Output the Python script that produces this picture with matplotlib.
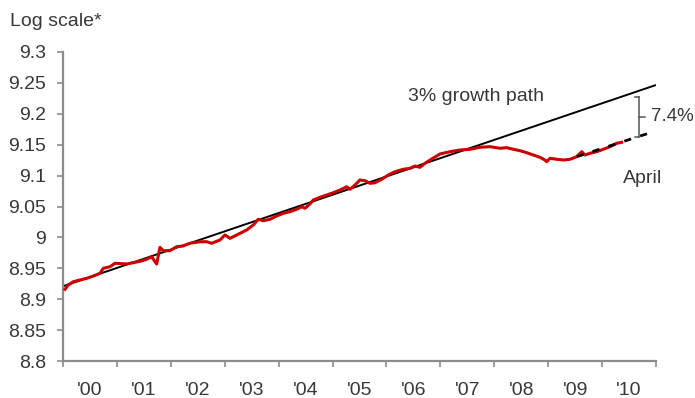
import matplotlib
matplotlib.use("Agg")
import matplotlib.pyplot as plt

# ---- data ----
red_years = [2000.037, 2000.098, 2000.191, 2000.315, 2000.440, 2000.562, 2000.686, 2000.748,
             2000.872, 2000.965, 2001.182, 2001.428, 2001.553, 2001.645, 2001.707, 2001.738,
             2001.799, 2001.860, 2001.985, 2002.109, 2002.231, 2002.356, 2002.541, 2002.666,
             2002.758, 2002.912, 2003.005, 2003.098, 2003.222, 2003.407, 2003.530, 2003.623,
             2003.715, 2003.840, 2003.964, 2004.086, 2004.211, 2004.335, 2004.428, 2004.489,
             2004.582, 2004.643, 2004.767, 2004.892, 2005.014, 2005.139, 2005.263, 2005.324,
             2005.416, 2005.509, 2005.602, 2005.695, 2005.787, 2005.912, 2006.034, 2006.158,
             2006.312, 2006.437, 2006.529, 2006.622, 2006.715, 2006.808, 2006.993, 2007.179,
             2007.364, 2007.550, 2007.735, 2007.921, 2008.106, 2008.230, 2008.353, 2008.477,
             2008.601, 2008.724, 2008.848, 2008.941, 2008.972, 2009.034, 2009.158, 2009.280,
             2009.405, 2009.529, 2009.622, 2009.683, 2009.776, 2009.900, 2010.023, 2010.147,
             2010.271, 2010.364]
red_values = [8.9160, 8.9230, 8.9283, 8.9311, 8.9338, 8.9375, 8.9419, 8.9500,
              8.9526, 8.9581, 8.9570, 8.9613, 8.9646, 8.9688, 8.9607, 8.9570,
              8.9840, 8.9785, 8.9785, 8.9850, 8.9861, 8.9905, 8.9930, 8.9930,
              8.9905, 8.9958, 9.0039, 8.9985, 9.0039, 9.0120, 9.0201, 9.0293,
              9.0270, 9.0293, 9.0346, 9.0390, 9.0416, 9.0455, 9.0497, 9.0471,
              9.0541, 9.0605, 9.0649, 9.0686, 9.0723, 9.0767, 9.0820, 9.0778,
              9.0848, 9.0929, 9.0918, 9.0875, 9.0885, 9.0940, 9.1010, 9.1063,
              9.1102, 9.1118, 9.1155, 9.1134, 9.1199, 9.1252, 9.1350, 9.1387,
              9.1414, 9.1426, 9.1458, 9.1468, 9.1442, 9.1452, 9.1426, 9.1403,
              9.1371, 9.1333, 9.1296, 9.1252, 9.1225, 9.1280, 9.1264, 9.1252,
              9.1264, 9.1306, 9.1387, 9.1333, 9.1361, 9.1387, 9.1426, 9.1468,
              9.1523, 9.1539]

trend_years = [2000.0, 2011.0]
trend_values = [8.921, 9.2466]

dashed_years = [2009.53, 2010.97]
dashed_values = [9.1306, 9.1716]

bracket_year = 2010.69
bracket_top = 9.2277
bracket_bottom = 9.1630

y_ticks = [8.8, 8.85, 8.9, 8.95, 9.0, 9.05, 9.1, 9.15, 9.2, 9.25, 9.3]
y_labels = ["8.8", "8.85", "8.9", "8.95", "9", "9.05", "9.1", "9.15", "9.2", "9.25", "9.3"]
year_ticks = list(range(2000, 2012))
year_labels = ["'00", "'01", "'02", "'03", "'04", "'05", "'06", "'07", "'08", "'09", "'10"]

# ---- style ----
plt.rcParams['font.family'] = ['Liberation Sans', 'DejaVu Sans']
TXT = "#383838"
AX = "#8c8c8c"

fig = plt.figure(figsize=(6.95, 3.98), dpi=100)
ax = fig.add_axes([63 / 695, 1 - 361 / 398, (656 - 63) / 695, (361 - 52) / 398])

ax.plot(trend_years, trend_values, color="black", lw=1.4, zorder=2, solid_capstyle="butt")
ax.plot(red_years, red_values, color="#cc0000", lw=2.2, zorder=3, solid_joinstyle="round")
ax.plot(dashed_years, dashed_values, color="black", lw=2.0, zorder=4,
        linestyle=(0, (2.6, 3.4)), clip_on=False)

# bracket
bk = dict(color="#555555", lw=1.1, clip_on=False, zorder=5)
ax.plot([bracket_year, bracket_year], [bracket_bottom, bracket_top], **bk)
ax.plot([bracket_year - 0.08, bracket_year], [bracket_top, bracket_top], **bk)
ax.plot([bracket_year - 0.08, bracket_year], [bracket_bottom, bracket_bottom], **bk)
mid = (bracket_top + bracket_bottom) / 2
ax.plot([bracket_year, bracket_year + 0.11], [mid, mid], **bk)

ax.text(2010.915, mid + 0.001, "7.4%", fontsize=13.5, color=TXT, va="center", ha="left", clip_on=False)
ax.text(2006.40, 9.2277, "3% growth path", fontsize=14, color=TXT, va="center", ha="left")
ax.text(2010.38, 9.0956, "April", fontsize=14, color=TXT, va="center", ha="left")

ax.set_xlim(2000, 2011)
ax.set_ylim(8.8, 9.3)

ax.set_yticks(y_ticks)
ax.set_yticklabels(y_labels)
ax.set_xticks(year_ticks)
ax.set_xticklabels([])
ax.set_xticks([y + 0.5 for y in year_ticks[:-1]], minor=True)
ax.set_xticklabels(year_labels, minor=True)

ax.tick_params(axis="y", which="major", direction="out", length=4, width=1.2, color=AX,
               labelsize=14, labelcolor=TXT, pad=8)
ax.tick_params(axis="x", which="major", direction="out", length=4, width=1.2, color=AX)
ax.tick_params(axis="x", which="minor", length=0, labelsize=14, labelcolor=TXT, pad=15)

for s in ["top", "right"]:
    ax.spines[s].set_visible(False)
for s in ["left", "bottom"]:
    ax.spines[s].set_color(AX)
    ax.spines[s].set_linewidth(1.6)

fig.text(10 / 695, 1 - 21 / 398, "Log scale*", fontsize=14, color=TXT, va="center", ha="left")

fig.savefig("out.png", dpi=100)
